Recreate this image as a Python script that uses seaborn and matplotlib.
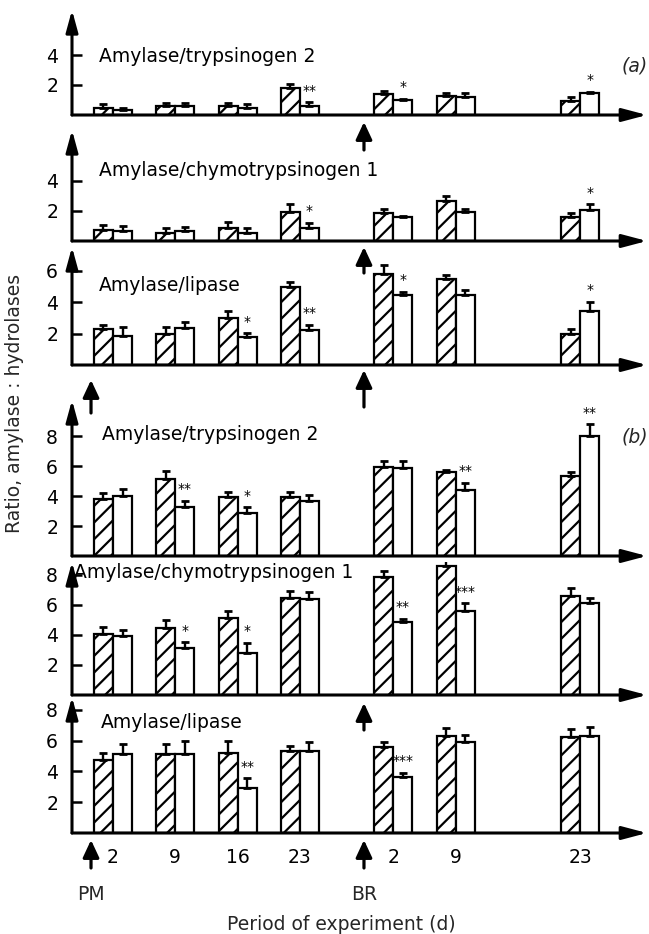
import numpy as np
import pandas as pd
import matplotlib
matplotlib.use("Agg")
import matplotlib.pyplot as plt
import matplotlib.transforms as mtransforms
from matplotlib.patches import FancyArrowPatch
import seaborn as sns

# ---------------- data ----------------
PHASE = ["PM", "PM", "PM", "PM", "BR", "BR", "BR"]
DAY = [2, 9, 16, 23, 2, 9, 23]
DAY_LABELS = ["2", "9", "16", "23", "2", "9", "23"]

TITLES = ["Amylase/trypsinogen 2", "Amylase/chymotrypsinogen 1", "Amylase/lipase",
          "Amylase/trypsinogen 2", "Amylase/chymotrypsinogen 1", "Amylase/lipase"]

# (a) panel 1: amylase / trypsinogen 2
P1_HATCHED = [0.49, 0.62, 0.62, 1.78, 1.40, 1.27, 0.93]
P1_HATCHED_ERR = [0.22, 0.20, 0.20, 0.29, 0.22, 0.23, 0.29]
P1_OPEN = [0.33, 0.62, 0.49, 0.62, 1.00, 1.22, 1.44]
P1_OPEN_ERR = [0.16, 0.20, 0.24, 0.22, 0.10, 0.22, 0.11]
P1_SIG = ["", "", "", "**", "*", "", "*"]

# (a) panel 2: amylase / chymotrypsinogen 1
P2_HATCHED = [0.75, 0.53, 0.90, 1.93, 1.90, 2.67, 1.60]
P2_HATCHED_ERR = [0.35, 0.37, 0.37, 0.51, 0.25, 0.31, 0.27]
P2_OPEN = [0.70, 0.70, 0.53, 0.90, 1.60, 1.93, 2.10]
P2_OPEN_ERR = [0.30, 0.23, 0.37, 0.30, 0.05, 0.22, 0.34]
P2_SIG = ["", "", "", "*", "", "", "*"]

# (a) panel 3: amylase / lipase
P3_HATCHED = [2.28, 2.00, 2.98, 5.00, 5.79, 5.49, 1.96]
P3_HATCHED_ERR = [0.27, 0.40, 0.49, 0.30, 0.59, 0.25, 0.32]
P3_OPEN = [1.85, 2.34, 1.80, 2.23, 4.43, 4.47, 3.47]
P3_OPEN_ERR = [0.55, 0.43, 0.22, 0.32, 0.25, 0.32, 0.53]
P3_SIG = ["", "", "*", "**", "*", "", "*"]

# (b) panel 4: amylase / trypsinogen 2
P4_HATCHED = [3.78, 5.11, 3.91, 3.91, 5.93, 5.60, 5.33]
P4_HATCHED_ERR = [0.40, 0.56, 0.38, 0.38, 0.40, 0.13, 0.27]
P4_OPEN = [4.00, 3.24, 2.84, 3.67, 5.89, 4.42, 8.00]
P4_OPEN_ERR = [0.44, 0.43, 0.40, 0.40, 0.44, 0.47, 0.78]
P4_SIG = ["", "**", "*", "", "", "**", "**"]

# (b) panel 5: amylase / chymotrypsinogen 1
P5_HATCHED = [4.07, 4.49, 5.16, 6.44, 7.84, 8.62, 6.62]
P5_HATCHED_ERR = [0.49, 0.51, 0.46, 0.49, 0.45, 0.42, 0.49]
P5_OPEN = [3.93, 3.16, 2.82, 6.40, 4.89, 5.62, 6.11]
P5_OPEN_ERR = [0.40, 0.35, 0.67, 0.49, 0.18, 0.49, 0.33]
P5_SIG = ["", "*", "*", "", "**", "***", ""]

# (b) panel 6: amylase / lipase
P6_HATCHED = [4.74, 5.11, 5.17, 5.35, 5.56, 6.30, 6.21]
P6_HATCHED_ERR = [0.43, 0.65, 0.80, 0.30, 0.33, 0.50, 0.52]
P6_OPEN = [5.13, 5.11, 2.90, 5.35, 3.61, 5.93, 6.30]
P6_OPEN_ERR = [0.65, 0.86, 0.65, 0.58, 0.31, 0.43, 0.60]
P6_SIG = ["", "", "**", "", "***", "", ""]

YTICKS = [[2, 4], [2, 4], [2, 4, 6], [2, 4, 6, 8], [2, 4, 6, 8], [2, 4, 6, 8]]

# ---------------- layout ----------------
W, H = 649, 934
AX_LEFT_PX, AX_RIGHT_PX = 72, 647
ORIGIN_PX, PX_PER_DAY = 95.2, 8.9
BR_OFFSET = 31.5          # timeline offset of the BR phase (days)
PM_ARROW, BR_ARROW = -0.47, 30.2
BAR_WIDTH = 0.61
FS = 13.5

# baseline_px, top_px, px_per_unit, title_x_px, title_y_px
LAYOUT = [(115, 10, 15.0, 99, 56),
          (241, 130, 15.0, 99, 170),
          (365, 247, 15.7, 99, 285),
          (556, 400, 15.0, 102, 435),
          (695, 562, 15.0, 74, 573),
          (833, 697, 15.4, 101, 723)]

sns.set_theme(style="white")
plt.rcParams["font.family"] = ["DejaVu Sans"]
plt.rcParams["hatch.linewidth"] = 1.6
plt.rcParams["hatch.color"] = "black"

fig = plt.figure(figsize=(W / 100, H / 100), dpi=100)
fig.patch.set_facecolor("white")


def fx(xpx):
    return xpx / W


def fy(ypx):
    return 1 - ypx / H


x_pos = [d if p == "PM" else BR_OFFSET + d for p, d in zip(PHASE, DAY)]
X0 = (AX_LEFT_PX - ORIGIN_PX) / PX_PER_DAY
X1 = (AX_RIGHT_PX - ORIGIN_PX) / PX_PER_DAY

panel_data = [
    (P1_HATCHED, P1_HATCHED_ERR, P1_OPEN, P1_OPEN_ERR, P1_SIG),
    (P2_HATCHED, P2_HATCHED_ERR, P2_OPEN, P2_OPEN_ERR, P2_SIG),
    (P3_HATCHED, P3_HATCHED_ERR, P3_OPEN, P3_OPEN_ERR, P3_SIG),
    (P4_HATCHED, P4_HATCHED_ERR, P4_OPEN, P4_OPEN_ERR, P4_SIG),
    (P5_HATCHED, P5_HATCHED_ERR, P5_OPEN, P5_OPEN_ERR, P5_SIG),
    (P6_HATCHED, P6_HATCHED_ERR, P6_OPEN, P6_OPEN_ERR, P6_SIG),
]

axes = []
for i, ((hat, hat_err, opn, opn_err, sig), (base, top, ppu, tx, ty)) in enumerate(zip(panel_data, LAYOUT)):
    ax = fig.add_axes([fx(AX_LEFT_PX), fy(base), fx(AX_RIGHT_PX) - fx(AX_LEFT_PX), (base - top) / H])
    ax.set_facecolor("none")
    df = pd.DataFrame({
        "pos": x_pos + x_pos,
        "ratio": list(hat) + list(opn),
        "series": ["hatched"] * len(hat) + ["open"] * len(opn),
    })
    sns.barplot(data=df, x="pos", y="ratio", hue="series", native_scale=True,
                width=BAR_WIDTH, gap=0, dodge=True, errorbar=None,
                palette=["white", "white"], saturation=1,
                edgecolor="black", linewidth=1.6, legend=False, ax=ax)
    for p in ax.containers[0]:
        p.set_hatch("//")
    for cont, err in zip(ax.containers, [hat_err, opn_err]):
        bars = sorted(cont, key=lambda b: b.get_x())
        xs = [b.get_x() + b.get_width() / 2 for b in bars]
        hs = [b.get_height() for b in bars]
        ax.errorbar(xs, hs, yerr=[np.zeros(len(err)), err], fmt="none",
                    ecolor="black", elinewidth=1.7, capsize=3, capthick=2.0, zorder=4)
    bars_open = sorted(ax.containers[1], key=lambda b: b.get_x())
    for b, e, s in zip(bars_open, opn_err, sig):
        if s:
            ax.text(b.get_x() + b.get_width() / 2, b.get_height() + e + 0.3, s,
                    ha="center", va="bottom", fontsize=10, color="black")

    ax.set_xlim(X0, X1)
    ax.set_ylim(0, (base - top) / ppu)
    for sp in ax.spines.values():
        sp.set_visible(False)
    ax.set_xlabel("")
    ax.set_ylabel("")
    ax.set_yticks(YTICKS[i])
    ax.set_yticklabels([str(t) for t in YTICKS[i]])
    ax.tick_params(axis="y", direction="in", length=7, width=1.8, labelsize=FS,
                   pad=10, left=True, colors="black")
    if i < 5:
        ax.set_xticks([])
    else:
        ax.set_xticks(x_pos)
        ax.set_xticklabels(DAY_LABELS)
        ax.tick_params(axis="x", length=0, labelsize=FS, pad=11, colors="black")
    ax.grid(False)
    # axis arrows
    ax.annotate("", xy=(1, 0), xytext=(0, 0), xycoords="axes fraction",
                arrowprops=dict(arrowstyle="-|>,head_length=1.25,head_width=0.33",
                                lw=2.2, color="black", mutation_scale=12,
                                shrinkA=0, shrinkB=0),
                annotation_clip=False, zorder=5)
    ax.annotate("", xy=(0, 1), xytext=(0, 0), xycoords="axes fraction",
                arrowprops=dict(arrowstyle="-|>,head_length=1.1,head_width=0.3",
                                lw=2.2, color="black", mutation_scale=12,
                                shrinkA=0, shrinkB=0),
                annotation_clip=False, zorder=5)
    fig.text(fx(tx), fy(ty), TITLES[i], ha="left", va="center", fontsize=FS, color="black")
    axes.append(ax)

fig.text(fx(648), fy(66), "(a)", ha="right", va="center", fontsize=FS, style="italic")
fig.text(fx(648), fy(437), "(b)", ha="right", va="center", fontsize=FS, style="italic")

# event arrows (PM = start, BR = return)
trans = mtransforms.blended_transform_factory(axes[-1].transData, fig.transFigure)
EVENT_ARROWS = [(BR_ARROW, 150, 122), (BR_ARROW, 273, 247), (BR_ARROW, 407, 370),
                (PM_ARROW, 413, 380), (BR_ARROW, 730, 703),
                (PM_ARROW, 868, 840), (BR_ARROW, 868, 840)]
for xa, y_tail, y_tip in EVENT_ARROWS:
    arr = FancyArrowPatch((xa, fy(y_tail)), (xa, fy(y_tip)), transform=trans,
                          arrowstyle="-|>,head_length=0.75,head_width=0.35",
                          mutation_scale=14, lw=2.3, color="black",
                          shrinkA=0, shrinkB=0, clip_on=False)
    fig.add_artist(arr)

fig.text(fx(91), fy(895), "PM", ha="center", va="center", fontsize=FS)
fig.text(fx(364), fy(895), "BR", ha="center", va="center", fontsize=FS)
fig.text(fx(341), fy(925), "Period of experiment (d)", ha="center", va="center", fontsize=FS)
fig.text(fx(15), fy(403), "Ratio, amylase : hydrolases", ha="center", va="center",
         rotation=90, fontsize=FS)

fig.savefig("out.png", dpi=100, facecolor="white")
